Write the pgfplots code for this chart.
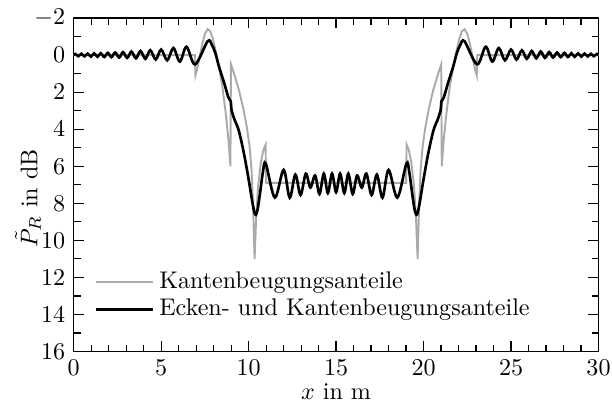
\documentclass[border=0pt]{standalone}
\usepackage{pgfplots}
\pgfplotsset{compat=1.18}
\definecolor{lgray}{RGB}{170,170,170}
\begin{document}
\begin{tikzpicture}
\begin{axis}[
  scale only axis,
  width=218pt, height=138.5pt,
  xmin=0, xmax=30, ymin=-2, ymax=16,
  y dir=reverse,
  xtick={0,5,...,30},
  ytick={-2,0,...,16},
  minor x tick num=4,
  minor y tick num=1,
  tick align=inside,
  xtick pos=both, ytick pos=both,
  xticklabel pos=lower, yticklabel pos=left,
  axis line style={line width=0.6pt},
  every tick/.style={black, line width=0.5pt},
  xlabel={$x$ in m},
  ylabel={$\tilde{P}_R$ in dB},
  xlabel style={at={(axis description cs:0.5,0)}, anchor=center, yshift=-16.8pt},
  ylabel style={at={(axis description cs:-0.087,0.46)}, anchor=center},
  legend style={draw=none, fill=none, at={(0.026,0.27)}, anchor=north west, row sep=-1pt},
  legend cell align=left,
  legend image code/.code={\draw[#1] (0cm,0cm) -- (0.83cm,0cm);},
]
\addplot[lgray, line width=0.8pt] coordinates {
(0,0) (6.93,0) (6.96,1.1) (7.05,0.8) (7.2,0.1) (7.35,-0.6) (7.5,-1.15) (7.66,-1.4) (7.8,-1.3) (7.95,-0.9) (8.1,-0.3) (8.3,0.6) (8.5,1.7) (8.7,3.2) (8.85,4.6) (8.96,6.0)
(8.99,0.5) (9.2,1.1) (9.45,1.9) (9.7,2.9) (9.9,3.9) (10.05,4.9) (10.17,6.2) (10.26,8.3) (10.34,11.0) (10.44,8.6) (10.55,7.0) (10.7,5.8) (10.85,5.1) (10.97,4.84) (11.0,6.9)
(15,6.9) (19.0,6.9) (19.03,4.84) (19.15,5.1) (19.3,5.8) (19.45,7.0) (19.56,8.6) (19.66,11.0) (19.74,8.3) (19.83,6.2) (19.95,4.9) (20.1,3.9) (20.3,2.9) (20.55,1.9) (20.8,1.1) (21.01,0.5)
(21.04,6.0) (21.15,4.6) (21.3,3.2) (21.5,1.7) (21.7,0.6) (21.9,-0.3) (22.05,-0.9) (22.2,-1.3) (22.34,-1.4) (22.5,-1.15) (22.65,-0.6) (22.8,0.1) (22.95,0.8) (23.04,1.1) (23.07,0) (30,0)
};
\addlegendentry{Kantenbeugungsanteile}
\addplot[black, line width=1.1pt, smooth, tension=0.55] coordinates {
(0.0,0.0) (0.1,-0.06) (0.27,0.06) (0.44,-0.07) (0.62,0.07) (0.8,-0.08) (0.98,0.08) (1.17,-0.09) (1.36,0.09) (1.55,-0.1) (1.75,0.1) (1.95,-0.12) (2.16,0.11) (2.37,-0.14) (2.6,0.13) (2.82,-0.16) (3.06,0.15) (3.3,-0.19) (3.56,0.17) (3.82,-0.22) (4.1,0.2) (4.38,-0.26) (4.69,0.24) (5.0,-0.3) (5.35,0.28) (5.7,-0.38) (6.07,0.35) (6.45,-0.45) (6.94,0.5) (7.66,-0.75) (7.9,-0.55) (8.1,-0.1) (8.3,0.6) (8.6,1.5) (8.85,2.3) (8.98,2.5) (9.02,2.95) (9.2,3.5) (9.43,4.05) (9.72,5.25) (10.0,6.7) (10.19,7.8) (10.32,8.45) (10.41,8.62) (10.52,8.3) (10.66,7.4) (10.82,6.3) (10.98,5.85) (11.5,7.69) (12.0,6.2) (12.35,7.7) (12.67,6.45) (12.97,7.55) (13.27,6.4) (13.53,7.15) (13.8,6.5) (14.05,7.5) (14.3,6.4) (14.53,7.45) (14.77,6.4) (15.0,7.4)
(15.23,6.4) (15.47,7.45) (15.7,6.4) (15.95,7.5) (16.2,6.5) (16.47,7.15) (16.73,6.4) (17.03,7.55) (17.33,6.45) (17.65,7.7) (18.0,6.2) (18.5,7.69) (19.02,5.85) (19.18,6.3) (19.34,7.4) (19.48,8.3) (19.59,8.62) (19.68,8.45) (19.81,7.8) (20.0,6.7) (20.28,5.25) (20.57,4.05) (20.8,3.5) (20.98,2.95) (21.02,2.5) (21.15,2.3) (21.4,1.5) (21.7,0.6) (21.9,-0.1) (22.1,-0.55) (22.34,-0.75) (23.06,0.5) (23.55,-0.45) (23.93,0.35) (24.3,-0.38) (24.65,0.28) (25.0,-0.3) (25.31,0.24) (25.62,-0.26) (25.9,0.2) (26.18,-0.22) (26.44,0.17) (26.7,-0.19) (26.94,0.15) (27.18,-0.16) (27.4,0.13) (27.63,-0.14) (27.84,0.11) (28.05,-0.12) (28.25,0.1) (28.45,-0.1) (28.64,0.09) (28.83,-0.09) (29.02,0.08) (29.2,-0.08) (29.38,0.07) (29.56,-0.07) (29.73,0.06) (29.9,-0.06) (30,0.0)
};
\addlegendentry{Ecken- und Kantenbeugungsanteile}
\end{axis}
\pgfresetboundingbox
\path ([xshift=-30.6pt,yshift=-24pt]current axis.south west) rectangle ([xshift=5.6pt,yshift=7.5pt]current axis.north east);
\end{tikzpicture}
\end{document}
